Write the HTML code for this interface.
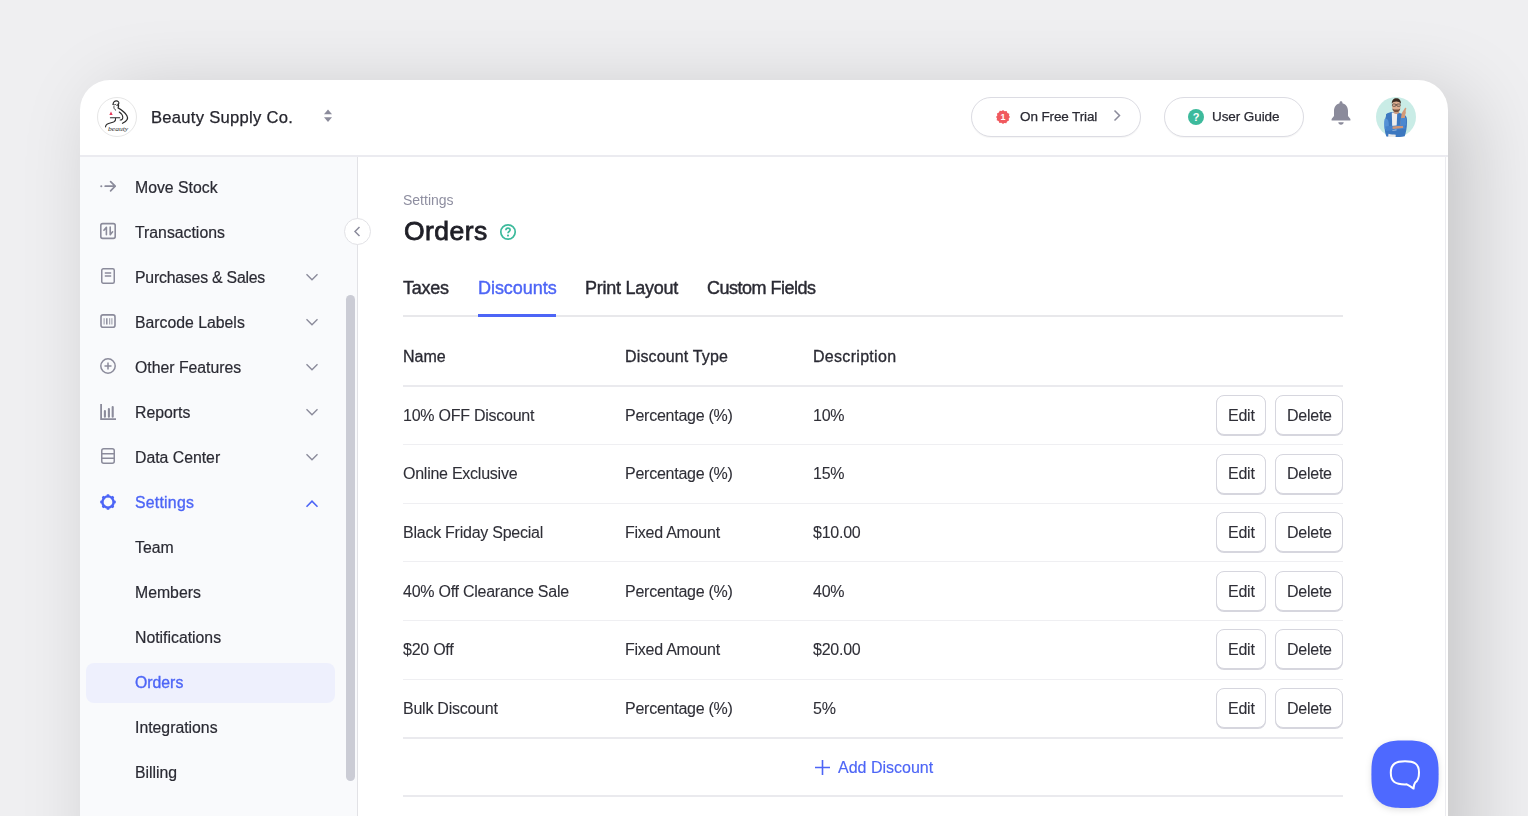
<!DOCTYPE html>
<html><head><meta charset="utf-8">
<style>
*{margin:0;padding:0;box-sizing:border-box}
html,body{width:1528px;height:816px;overflow:hidden}
body{background:#efeff1;font-family:"Liberation Sans",sans-serif;position:relative;color:#2a2a33}
.t{will-change:transform}
.a{position:absolute}
.t{position:absolute;white-space:nowrap}
.si{font-size:15.8px;line-height:16px;color:#2a2a33;-webkit-text-stroke:0.2px #2a2a33}
.pill{position:absolute;height:40px;top:97px;border:1px solid #dcdce3;border-radius:20px;background:#fff;box-shadow:0 1px 1px rgba(0,0,0,0.04)}
.btn{position:absolute;height:40px;border:1px solid #d6d6de;border-radius:8px;background:#fff;box-shadow:0 1px 0 #d6d6de}
.rl{position:absolute;left:403px;width:940px;height:1px;background:#efeff2}
.bt{font-size:16px;line-height:16px;color:#2f2f37;-webkit-text-stroke:0.1px #2f2f37;letter-spacing:-0.25px}
</style></head><body>
<div class="a" style="left:80px;top:80px;width:1368px;height:800px;background:#fff;border-radius:30px 30px 0 0;box-shadow:21px 16px 79px rgba(0,0,0,0.18)"></div>
<div class="a" style="left:80px;top:155px;width:1368px;height:2px;background:#ebebf0"></div>
<div class="a" style="left:80px;top:157px;width:277px;height:700px;background:#f9fafc"></div>
<div class="a" style="left:357px;top:157px;width:1px;height:700px;background:#e2e2e6"></div>
<div class="a" style="left:1445px;top:156px;width:1px;height:700px;background:#ececf0"></div>

<div class="a" style="left:97px;top:97px;width:40px;height:40px;border-radius:50%;border:1px solid #e6e6e6;background:#fff"></div>
<svg class="a" style="left:97px;top:97px" width="40" height="40" viewBox="0 0 40 40">
  <g fill="none" stroke="#2b2b2b" stroke-linecap="round" stroke-linejoin="round">
  <path d="M16.2 7.3c-0.2-1.9 1.3-3.4 3.2-3.4c1.6 0 2.6 1.1 2.5 2.4c-0.1 1.2-1 1.9-2 2.1" stroke-width="1.1"/>
  <path d="M15.6 7.4c1 0.7 2.3 0.6 3.2 0M16.9 9.5c-0.3 1.3 0.3 2.9 1.8 3.7" stroke-width="0.9"/>
  <path d="M21.3 6.8c0.5 1.5 0.2 3 -0.2 4.1c2.8 1.6 6.8 4.3 8.8 7.8c1.4 2.5 0.8 5.3-4.4 7.6" stroke-width="1.25"/>
  <path d="M22.2 15c1.9 1.2 3.6 3.3 3.6 5.4c0 1.5-1 2.6-2.6 2.6" stroke-width="1.05"/>
  <path d="M13.4 20.7h9.4M18.6 21.3c0.2 1.5 0 2.6-1.6 3.5c-2 0.9-4.8 1.3-7 2.5c-1 0.6-1.4 1.6-1.5 2.6" stroke-width="1.05"/>
  </g>
  <path d="M14 14.4l1.7 3.5h-3.4z" fill="#e8385a"/>
  <text x="11" y="33.6" font-family="Liberation Serif" font-style="italic" font-size="6.3" textLength="20.2" lengthAdjust="spacingAndGlyphs" fill="#2b2b2b">beauty</text>
</svg>
<div class="t" style="left:151px;top:108.5px;font-size:16.6px;line-height:17px;color:#26262e;-webkit-text-stroke:0.25px #26262e;letter-spacing:0.28px">Beauty Supply Co.</div>
<svg class="a" style="left:322px;top:108px" width="12" height="16" viewBox="0 0 12 16">
  <path d="M2 6.2L6 1.5L10 6.2Z" fill="#8b8b9b"/><path d="M2 9.3L6 14L10 9.3Z" fill="#8b8b9b"/>
</svg>
<div class="pill" style="left:971px;width:170px"></div>
<svg class="a" style="left:995px;top:109px" width="16" height="16" viewBox="0 0 16 16">
  <path d="M8 1l1.6 1.3 2-.3.8 1.9 1.9.8-.3 2L15 8l-1.3 1.6.3 2-1.9.8-.8 1.9-2-.3L8 15l-1.6-1.3-2 .3-.8-1.9-1.9-.8.3-2L1 8l1.3-1.6-.3-2 1.9-.8.8-1.9 2 .3z" fill="#f0595e"/>
  <text x="8" y="11.3" font-family="Liberation Sans" font-weight="700" font-size="9" text-anchor="middle" fill="#fff">1</text>
</svg>
<div class="t" style="left:1019.5px;top:110.3px;font-size:13.5px;line-height:14px;color:#2a2a33;letter-spacing:-0.12px;-webkit-text-stroke:0.25px #2a2a33">On Free Trial</div>
<svg class="a" style="left:1112px;top:109px" width="10" height="13" viewBox="0 0 10 13">
  <path d="M2.5 1.5L7.5 6.5L2.5 11.5" fill="none" stroke="#8b8b9b" stroke-width="1.5"/>
</svg>
<div class="pill" style="left:1164px;width:140px"></div>
<svg class="a" style="left:1188px;top:108.5px" width="16" height="16" viewBox="0 0 16 16">
  <circle cx="8" cy="8" r="8" fill="#3dba9c"/>
  <text x="8" y="12" font-family="Liberation Sans" font-weight="700" font-size="11" text-anchor="middle" fill="#fff">?</text>
</svg>
<div class="t" style="left:1212px;top:110.3px;font-size:13.5px;line-height:14px;color:#2a2a33;letter-spacing:-0.08px;-webkit-text-stroke:0.25px #2a2a33">User Guide</div>
<svg class="a" style="left:1330px;top:100px" width="22" height="26" viewBox="0 0 22 26">
  <path d="M11 1.2c.9 0 1.4.6 1.4 1.4v.6c3.5.8 5.6 3.8 5.6 7.6v5.2l2.4 3v1.5H1.6V19l2.4-3v-5.2c0-3.800 2.1-6.8 5.6-7.6v-.6c0-.8.5-1.4 1.4-1.4z" fill="#8b8b9b"/>
  <path d="M8.3 22.3h5.4c0 1.5-1.2 2.5-2.7 2.5s-2.7-1-2.7-2.5z" fill="#8b8b9b"/>
</svg>
<svg class="a" style="left:1376px;top:97px" width="40" height="40" viewBox="0 0 40 40">
  <circle cx="20" cy="20" r="20" fill="#c9ece6"/>
  <path d="M10 17.2c1.8-1.2 4-1.8 5.8-2.1l5.2 0.4c2.2 0.3 4.6 0.9 6.3 1.7c2.2 1 3.4 2.4 3.6 4.6c0.3 3.5 0.1 7.5-0.6 11.2c-0.5 2.5-1 4.5-1.6 6.2c-5 1.2-11.5 1.2-18.3 0.3c-1-2.5-1.5-5-1.7-8c-0.3-4-0.1-8.5 1.3-12.5z" fill="#3c78c0"/>
  <path d="M8.6 22c1.5-0.5 3 0 3.6 1.5c0.8 2.2 0.6 5.6 0.8 8.2l-4.3 0.6c-0.6-3.5-0.8-7 -0.1-10.3z" fill="#5592d6"/>
  <path d="M15.8 15.6l5.4 0.3l-0.7 17.4l-4.2 0.2z" fill="#ededed"/>
  <path d="M9.3 29.5c4.5-0.8 11-1 19.5-1.5l0.6 3.8c-6.5 0.7-13.5 1.4-19.5 2.3z" fill="#4583cc"/>
  <path d="M16.5 29.6c3.8-0.4 7-0.6 10.5-0.8l0.2 2.3c-3.5 0.3-7 0.6-10.6 0.9z" fill="#d09676"/>
  <path d="M24.6 28c0.1-3.5 0.4-7.3 0.9-10.2c0.3-1.8 0.9-3 1.6-3.8l1.9-3c0.4-0.6 1.4-0.4 1.3 0.4l-0.7 2.6c0.4 1.1 0.3 2.6-0.4 3.8c-0.4 3.5-0.8 7-1.4 10.3z" fill="#d49a78"/>
  <path d="M24.5 21.5c1.8-0.6 3.6-0.6 5.6-0.2l-0.2 7.2l-5.4 0.3z" fill="#4b88cf"/>
  <path d="M17.6 11.5h5.6v4.5c-0.9 0.7-1.8 1-2.8 1s-2-0.3-2.8-1z" fill="#c99a7e"/>
  <ellipse cx="20.3" cy="8.9" rx="4.3" ry="5.6" fill="#dfae90"/>
  <path d="M16.2 11.4c0.6 2.6 2.1 3.7 4.1 3.7s3.5-1.1 4.1-3.7c-1.1 0.9-2.5 1.1-4.1 1.1s-3-0.2-4.1-1.1z" fill="#7a5440"/>
  <path d="M15.8 6.8c-0.2-3.5 1.9-5.5 4.5-5.5c2.8 0 4.9 1.8 4.6 5.6c-0.8-1.7-2.5-2.5-4.6-2.5s-3.7 0.7-4.5 2.4z" fill="#3a2a20"/>
  <g fill="none" stroke="#2e2e2e" stroke-width="0.6"><rect x="16.4" y="7" width="3.4" height="2.3" rx="0.8"/><rect x="20.9" y="7" width="3.4" height="2.3" rx="0.8"/><path d="M19.8 7.8h1.1"/></g>
  <path d="M12.5 36.8c2.5 0.7 5 0.9 7.3 0.9l-0.3 3h-7.5z" fill="#e9e9e9"/>
</svg>

<svg class="a" style="left:99px;top:179px" width="18" height="14" viewBox="0 0 18 14"><circle cx="2.3" cy="7.2" r="1.05" fill="#8b8b9b"/><path d="M6.2 7.2h10M11.6 2.6l4.6 4.6-4.6 4.6" fill="none" stroke="#8b8b9b" stroke-width="1.7" stroke-linecap="round" stroke-linejoin="round"/></svg>
<div class="t si" style="left:135px;top:180.3px">Move Stock</div>
<svg class="a" style="left:99px;top:222px" width="18" height="18" viewBox="0 0 18 18"><rect x="1.8" y="1.6" width="14.4" height="14.8" rx="1.8" fill="none" stroke="#8b8b9b" stroke-width="1.6"/><path d="M7.4 12.8V5.3L4.9 8.2M11.2 5.1v7.7l2.4-3" fill="none" stroke="#8b8b9b" stroke-width="1.6" stroke-linecap="round" stroke-linejoin="round"/></svg>
<div class="t si" style="left:135px;top:225.3px">Transactions</div>
<svg class="a" style="left:100px;top:267px" width="16" height="18" viewBox="0 0 16 18"><rect x="1.75" y="1.75" width="12.5" height="14.5" rx="1.5" fill="none" stroke="#8b8b9b" stroke-width="1.5"/><path d="M4.8 6h6.4M4.8 9h6.4" stroke="#8b8b9b" stroke-width="1.4"/></svg>
<div class="t si" style="left:135px;top:270.3px;letter-spacing:-0.2px">Purchases &amp; Sales</div>
<svg class="a" style="left:304px;top:270px" width="16" height="14" viewBox="0 0 16 14"><path d="M2.5 4.3L8 9.8L13.5 4.3" fill="none" stroke="#8b8b9b" stroke-width="1.4"/></svg>
<svg class="a" style="left:99px;top:313px" width="18" height="16" viewBox="0 0 18 16"><rect x="2" y="1.9" width="14" height="12.3" rx="2" fill="none" stroke="#8b8b9b" stroke-width="1.6"/><path d="M5.1 5.2v6.3M10.7 5.2v6.3M12.9 5.2v6.3" stroke="#8b8b9b" stroke-width="0.9"/><path d="M7.8 5.2v6.3" stroke="#8b8b9b" stroke-width="1.5"/></svg>
<div class="t si" style="left:135px;top:315.3px">Barcode Labels</div>
<svg class="a" style="left:304px;top:315px" width="16" height="14" viewBox="0 0 16 14"><path d="M2.5 4.3L8 9.8L13.5 4.3" fill="none" stroke="#8b8b9b" stroke-width="1.4"/></svg>
<svg class="a" style="left:99px;top:357px" width="18" height="18" viewBox="0 0 18 18"><circle cx="9" cy="9" r="7.2" fill="none" stroke="#8b8b9b" stroke-width="1.5"/><path d="M9 5.5v7M5.5 9h7" stroke="#8b8b9b" stroke-width="1.5"/></svg>
<div class="t si" style="left:135px;top:360.3px">Other Features</div>
<svg class="a" style="left:304px;top:360px" width="16" height="14" viewBox="0 0 16 14"><path d="M2.5 4.3L8 9.8L13.5 4.3" fill="none" stroke="#8b8b9b" stroke-width="1.4"/></svg>
<svg class="a" style="left:99px;top:402.5px" width="18" height="18" viewBox="0 0 18 18"><path d="M2.1 1.1v15.1h14.9" fill="none" stroke="#8b8b9b" stroke-width="1.8"/><path d="M5.9 8.1v5.6M9.9 6.1v7.6M13.7 4.1v9.6" stroke="#8b8b9b" stroke-width="2.1" stroke-linecap="round"/></svg>
<div class="t si" style="left:135px;top:405.3px">Reports</div>
<svg class="a" style="left:304px;top:405px" width="16" height="14" viewBox="0 0 16 14"><path d="M2.5 4.3L8 9.8L13.5 4.3" fill="none" stroke="#8b8b9b" stroke-width="1.4"/></svg>
<svg class="a" style="left:100px;top:447px" width="16" height="18" viewBox="0 0 16 18"><rect x="1.75" y="1.75" width="12.5" height="14.5" rx="2" fill="none" stroke="#8b8b9b" stroke-width="1.5"/><path d="M2 6.7h12M2 11.3h12" stroke="#8b8b9b" stroke-width="1.4"/></svg>
<div class="t si" style="left:135px;top:450.3px">Data Center</div>
<svg class="a" style="left:304px;top:450px" width="16" height="14" viewBox="0 0 16 14"><path d="M2.5 4.3L8 9.8L13.5 4.3" fill="none" stroke="#8b8b9b" stroke-width="1.4"/></svg>
<svg class="a" style="left:99px;top:493px" width="18" height="18" viewBox="0 0 18 18"><circle cx="9" cy="9" r="5.6" fill="none" stroke="#4d65f6" stroke-width="2.4"/><g fill="#4d65f6"><rect x="7.6" y="1.2" width="2.8" height="3" rx="0.9" transform="rotate(0 9 9)"/><rect x="7.6" y="1.2" width="2.8" height="3" rx="0.9" transform="rotate(45 9 9)"/><rect x="7.6" y="1.2" width="2.8" height="3" rx="0.9" transform="rotate(90 9 9)"/><rect x="7.6" y="1.2" width="2.8" height="3" rx="0.9" transform="rotate(135 9 9)"/><rect x="7.6" y="1.2" width="2.8" height="3" rx="0.9" transform="rotate(180 9 9)"/><rect x="7.6" y="1.2" width="2.8" height="3" rx="0.9" transform="rotate(225 9 9)"/><rect x="7.6" y="1.2" width="2.8" height="3" rx="0.9" transform="rotate(270 9 9)"/><rect x="7.6" y="1.2" width="2.8" height="3" rx="0.9" transform="rotate(315 9 9)"/></g></svg>
<div class="t si" style="left:135px;top:495.3px;color:#4d65f6;-webkit-text-stroke:0.35px #4d65f6;letter-spacing:0.25px">Settings</div>
<svg class="a" style="left:304px;top:496.5px" width="16" height="14" viewBox="0 0 16 14"><path d="M2.5 9.7L8 4.2L13.5 9.7" fill="none" stroke="#4d65f6" stroke-width="1.6"/></svg>
<div class="t si" style="left:135px;top:540.3px">Team</div>
<div class="t si" style="left:135px;top:585.3px">Members</div>
<div class="t si" style="left:135px;top:630.3px">Notifications</div>
<div class="a" style="left:86px;top:663px;width:249px;height:40px;border-radius:8px;background:#eef0fd"></div>
<div class="t si" style="left:135px;top:675.3px;color:#4d65f6;-webkit-text-stroke:0.35px #4d65f6">Orders</div>
<div class="t si" style="left:135px;top:720.3px">Integrations</div>
<div class="t si" style="left:135px;top:765.3px">Billing</div>
<div class="a" style="left:346px;top:295px;width:9px;height:486px;border-radius:5px;background:#cbccd5"></div>
<div class="a" style="left:344px;top:218px;width:27px;height:27px;border-radius:50%;border:1px solid #e2e2e6;background:#fff"></div>
<svg class="a" style="left:351px;top:225px" width="13" height="13" viewBox="0 0 13 13"><path d="M8.5 2L4 6.5L8.5 11" fill="none" stroke="#8b8b9b" stroke-width="1.5"/></svg>

<div class="t" style="left:403px;top:193px;font-size:14px;line-height:14px;color:#8e8ea0">Settings</div>
<div class="t" style="left:403.5px;top:217.5px;font-size:26.5px;line-height:27px;color:#1f1f27;-webkit-text-stroke:0.8px #1f1f27;letter-spacing:0.45px">Orders</div>
<svg class="a" style="left:499px;top:222.5px" width="18" height="18" viewBox="0 0 18 18">
  <circle cx="9" cy="9" r="7.2" fill="none" stroke="#3dba9c" stroke-width="1.7"/>
  <path d="M6.9 7.2c0-1.3 1-2.1 2.1-2.1s2.1.8 2.1 1.9c0 1.5-2.1 1.6-2.1 3.3" fill="none" stroke="#3dba9c" stroke-width="1.7"/>
  <circle cx="9" cy="12.6" r="1.05" fill="#3dba9c"/>
</svg>

<div class="t" style="left:403px;top:278.6px;font-size:18px;line-height:18px;color:#2a2a33;letter-spacing:-0.25px;-webkit-text-stroke:0.42px #2a2a33">Taxes</div>
<div class="t" style="left:478px;top:278.6px;font-size:18px;line-height:18px;color:#4d65f6;letter-spacing:-0.05px;-webkit-text-stroke:0.42px #4d65f6">Discounts</div>
<div class="t" style="left:585px;top:278.6px;font-size:18px;line-height:18px;color:#2a2a33;letter-spacing:-0.25px;-webkit-text-stroke:0.42px #2a2a33">Print Layout</div>
<div class="t" style="left:707px;top:278.6px;font-size:18px;line-height:18px;color:#2a2a33;letter-spacing:-0.5px;-webkit-text-stroke:0.42px #2a2a33">Custom Fields</div>
<div class="a" style="left:403px;top:315px;width:940px;height:2px;background:#e8e8eb"></div>
<div class="a" style="left:478px;top:314px;width:78px;height:3px;background:#4d65f6"></div>
<div class="t" style="left:403px;top:348.5px;font-size:16px;line-height:16px;color:#2a2a33;-webkit-text-stroke:0.3px #2a2a33;letter-spacing:0px">Name</div>
<div class="t" style="left:625px;top:348.5px;font-size:16px;line-height:16px;color:#2a2a33;-webkit-text-stroke:0.3px #2a2a33;letter-spacing:0.15px">Discount Type</div>
<div class="t" style="left:813px;top:348.5px;font-size:16px;line-height:16px;color:#2a2a33;-webkit-text-stroke:0.3px #2a2a33;letter-spacing:0.3px">Description</div>
<div class="rl" style="top:385px;height:2px;background:#eaeaee"></div>
<div class="t bt" style="left:403px;top:407.70px">10% OFF Discount</div>
<div class="t bt" style="left:625px;top:407.70px">Percentage (%)</div>
<div class="t bt" style="left:813px;top:407.70px">10%</div>
<div class="btn" style="left:1216px;top:395.00px;width:50px"></div>
<div class="btn" style="left:1275px;top:395.00px;width:68px"></div>
<div class="t bt" style="left:1228px;top:407.70px">Edit</div>
<div class="t bt" style="left:1287px;top:407.70px">Delete</div>
<div class="rl" style="top:444.20px"></div>
<div class="t bt" style="left:403px;top:466.30px">Online Exclusive</div>
<div class="t bt" style="left:625px;top:466.30px">Percentage (%)</div>
<div class="t bt" style="left:813px;top:466.30px">15%</div>
<div class="btn" style="left:1216px;top:453.60px;width:50px"></div>
<div class="btn" style="left:1275px;top:453.60px;width:68px"></div>
<div class="t bt" style="left:1228px;top:466.30px">Edit</div>
<div class="t bt" style="left:1287px;top:466.30px">Delete</div>
<div class="rl" style="top:502.80px"></div>
<div class="t bt" style="left:403px;top:524.90px">Black Friday Special</div>
<div class="t bt" style="left:625px;top:524.90px">Fixed Amount</div>
<div class="t bt" style="left:813px;top:524.90px">$10.00</div>
<div class="btn" style="left:1216px;top:512.20px;width:50px"></div>
<div class="btn" style="left:1275px;top:512.20px;width:68px"></div>
<div class="t bt" style="left:1228px;top:524.90px">Edit</div>
<div class="t bt" style="left:1287px;top:524.90px">Delete</div>
<div class="rl" style="top:561.40px"></div>
<div class="t bt" style="left:403px;top:583.50px">40% Off Clearance Sale</div>
<div class="t bt" style="left:625px;top:583.50px">Percentage (%)</div>
<div class="t bt" style="left:813px;top:583.50px">40%</div>
<div class="btn" style="left:1216px;top:570.80px;width:50px"></div>
<div class="btn" style="left:1275px;top:570.80px;width:68px"></div>
<div class="t bt" style="left:1228px;top:583.50px">Edit</div>
<div class="t bt" style="left:1287px;top:583.50px">Delete</div>
<div class="rl" style="top:620.00px"></div>
<div class="t bt" style="left:403px;top:642.10px">$20 Off</div>
<div class="t bt" style="left:625px;top:642.10px">Fixed Amount</div>
<div class="t bt" style="left:813px;top:642.10px">$20.00</div>
<div class="btn" style="left:1216px;top:629.40px;width:50px"></div>
<div class="btn" style="left:1275px;top:629.40px;width:68px"></div>
<div class="t bt" style="left:1228px;top:642.10px">Edit</div>
<div class="t bt" style="left:1287px;top:642.10px">Delete</div>
<div class="rl" style="top:678.60px"></div>
<div class="t bt" style="left:403px;top:700.70px">Bulk Discount</div>
<div class="t bt" style="left:625px;top:700.70px">Percentage (%)</div>
<div class="t bt" style="left:813px;top:700.70px">5%</div>
<div class="btn" style="left:1216px;top:688.00px;width:50px"></div>
<div class="btn" style="left:1275px;top:688.00px;width:68px"></div>
<div class="t bt" style="left:1228px;top:700.70px">Edit</div>
<div class="t bt" style="left:1287px;top:700.70px">Delete</div>
<div class="rl" style="top:737px;height:2px;background:#eaeaee"></div>
<svg class="a" style="left:814px;top:759px" width="17" height="17" viewBox="0 0 17 17"><path d="M8.5 1v15M1 8.5h15" stroke="#4d65f6" stroke-width="1.6"/></svg>
<div class="t" style="left:838px;top:759.5px;font-size:16px;line-height:16px;color:#4d65f6;-webkit-text-stroke:0.15px #4d65f6">Add Discount</div>
<div class="rl" style="top:795px;height:2px;background:#eaeaee"></div>
<svg class="a" style="left:1366px;top:736px;overflow:visible" width="78" height="78" viewBox="0 0 78 78">
  <defs><filter id="sh" x="-50%" y="-50%" width="200%" height="200%"><feGaussianBlur stdDeviation="3"/></filter></defs>
  <path d="M72.60 38.20 L72.57 42.62 L72.47 45.32 L72.31 47.60 L72.09 49.64 L71.81 51.51 L71.46 53.24 L71.04 54.86 L70.57 56.38 L70.03 57.81 L69.43 59.16 L68.76 60.43 L68.03 61.63 L67.24 62.76 L66.38 63.82 L65.46 64.81 L64.47 65.74 L63.41 66.61 L62.29 67.40 L61.10 68.14 L59.83 68.81 L58.49 69.41 L57.07 69.96 L55.56 70.44 L53.95 70.85 L52.23 71.20 L50.37 71.49 L48.35 71.71 L46.08 71.87 L43.39 71.97 L39.00 72.00 L34.61 71.97 L31.92 71.87 L29.65 71.71 L27.63 71.49 L25.77 71.20 L24.05 70.85 L22.44 70.44 L20.93 69.96 L19.51 69.41 L18.17 68.81 L16.90 68.14 L15.71 67.40 L14.59 66.61 L13.53 65.74 L12.54 64.81 L11.62 63.82 L10.76 62.76 L9.97 61.63 L9.24 60.43 L8.57 59.16 L7.97 57.81 L7.43 56.38 L6.96 54.86 L6.54 53.24 L6.19 51.51 L5.91 49.64 L5.69 47.60 L5.53 45.32 L5.43 42.62 L5.40 38.20 L5.43 33.78 L5.53 31.08 L5.69 28.80 L5.91 26.76 L6.19 24.89 L6.54 23.16 L6.96 21.54 L7.43 20.02 L7.97 18.59 L8.57 17.24 L9.24 15.97 L9.97 14.77 L10.76 13.64 L11.62 12.58 L12.54 11.59 L13.53 10.66 L14.59 9.79 L15.71 9.00 L16.90 8.26 L18.17 7.59 L19.51 6.99 L20.93 6.44 L22.44 5.96 L24.05 5.55 L25.77 5.20 L27.63 4.91 L29.65 4.69 L31.92 4.53 L34.61 4.43 L39.00 4.40 L43.39 4.43 L46.08 4.53 L48.35 4.69 L50.37 4.91 L52.23 5.20 L53.95 5.55 L55.56 5.96 L57.07 6.44 L58.49 6.99 L59.83 7.59 L61.10 8.26 L62.29 9.00 L63.41 9.79 L64.47 10.66 L65.46 11.59 L66.38 12.58 L67.24 13.64 L68.03 14.77 L68.76 15.97 L69.43 17.24 L70.03 18.59 L70.57 20.02 L71.04 21.54 L71.46 23.16 L71.81 24.89 L72.09 26.76 L72.31 28.80 L72.47 31.08 L72.57 33.78Z" fill="rgba(0,0,0,0.12)" filter="url(#sh)" transform="translate(0 2)"/>
  <path d="M72.60 38.20 L72.57 42.62 L72.47 45.32 L72.31 47.60 L72.09 49.64 L71.81 51.51 L71.46 53.24 L71.04 54.86 L70.57 56.38 L70.03 57.81 L69.43 59.16 L68.76 60.43 L68.03 61.63 L67.24 62.76 L66.38 63.82 L65.46 64.81 L64.47 65.74 L63.41 66.61 L62.29 67.40 L61.10 68.14 L59.83 68.81 L58.49 69.41 L57.07 69.96 L55.56 70.44 L53.95 70.85 L52.23 71.20 L50.37 71.49 L48.35 71.71 L46.08 71.87 L43.39 71.97 L39.00 72.00 L34.61 71.97 L31.92 71.87 L29.65 71.71 L27.63 71.49 L25.77 71.20 L24.05 70.85 L22.44 70.44 L20.93 69.96 L19.51 69.41 L18.17 68.81 L16.90 68.14 L15.71 67.40 L14.59 66.61 L13.53 65.74 L12.54 64.81 L11.62 63.82 L10.76 62.76 L9.97 61.63 L9.24 60.43 L8.57 59.16 L7.97 57.81 L7.43 56.38 L6.96 54.86 L6.54 53.24 L6.19 51.51 L5.91 49.64 L5.69 47.60 L5.53 45.32 L5.43 42.62 L5.40 38.20 L5.43 33.78 L5.53 31.08 L5.69 28.80 L5.91 26.76 L6.19 24.89 L6.54 23.16 L6.96 21.54 L7.43 20.02 L7.97 18.59 L8.57 17.24 L9.24 15.97 L9.97 14.77 L10.76 13.64 L11.62 12.58 L12.54 11.59 L13.53 10.66 L14.59 9.79 L15.71 9.00 L16.90 8.26 L18.17 7.59 L19.51 6.99 L20.93 6.44 L22.44 5.96 L24.05 5.55 L25.77 5.20 L27.63 4.91 L29.65 4.69 L31.92 4.53 L34.61 4.43 L39.00 4.40 L43.39 4.43 L46.08 4.53 L48.35 4.69 L50.37 4.91 L52.23 5.20 L53.95 5.55 L55.56 5.96 L57.07 6.44 L58.49 6.99 L59.83 7.59 L61.10 8.26 L62.29 9.00 L63.41 9.79 L64.47 10.66 L65.46 11.59 L66.38 12.58 L67.24 13.64 L68.03 14.77 L68.76 15.97 L69.43 17.24 L70.03 18.59 L70.57 20.02 L71.04 21.54 L71.46 23.16 L71.81 24.89 L72.09 26.76 L72.31 28.80 L72.47 31.08 L72.57 33.78Z" fill="#4e69ff"/>
  <path d="M39 25.3C48 25.3 53 27.5 53 36.5C53 42 51.5 45 49.3 46.3C48.3 48 47.5 50.5 47.6 52.6C45.5 51 43 49.3 40.8 48.3C40.2 48.4 39.6 48.4 39 48.4C29.5 48.4 24.8 46 24.8 36.8C24.8 27.5 30 25.3 39 25.3Z" fill="none" stroke="#fff" stroke-width="2" stroke-linejoin="round"/>
</svg>
</body></html>
